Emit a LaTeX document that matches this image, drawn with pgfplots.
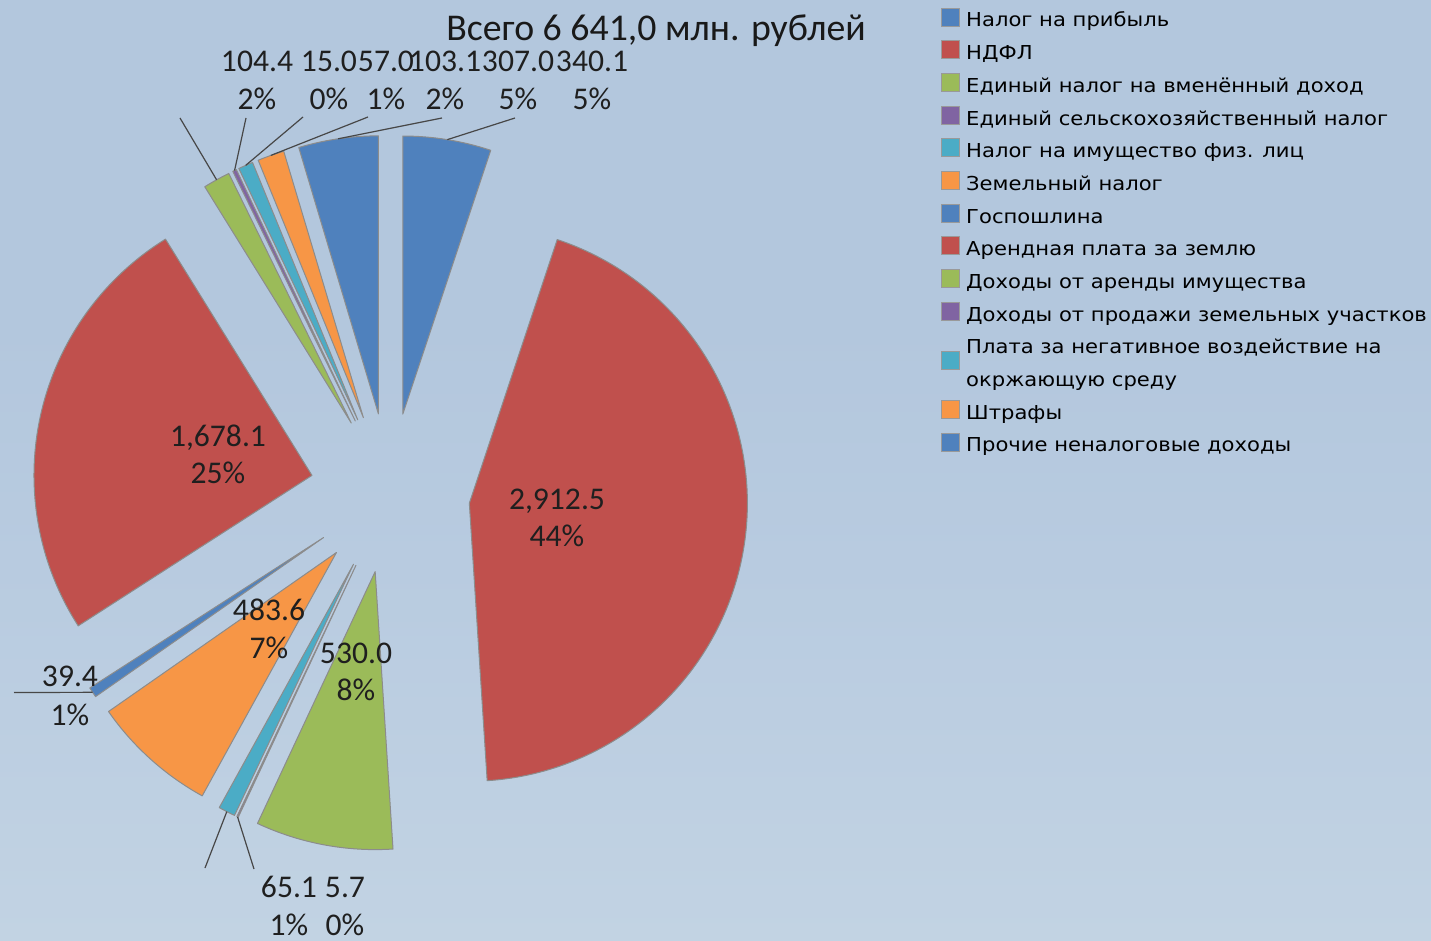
\documentclass[border=0pt]{standalone}
\usepackage{fontspec}
\setmainfont{Carlito}
\newfontfamily\legfont[FakeStretch=1.1]{DejaVu Sans}
\usepackage{pgfplots}
\usepackage{pgfplotstable}
\pgfplotsset{compat=1.18}

\definecolor{cA}{HTML}{4F81BD}
\definecolor{cB}{HTML}{C0504D}
\definecolor{cC}{HTML}{9BBB59}
\definecolor{cD}{HTML}{8064A2}
\definecolor{cE}{HTML}{4BACC6}
\definecolor{cF}{HTML}{F79646}
\definecolor{bg1}{HTML}{B2C5DC}
\definecolor{bg2}{HTML}{B9CBE1}
\definecolor{bg3}{HTML}{C2D3E3}
\definecolor{bg4}{HTML}{B8CBE0}
\definecolor{bg5}{HTML}{B3C7DD}
\definecolor{bg6}{HTML}{B4C8DE}
\pgfdeclareverticalshading{bgshade}{100bp}{color(0bp)=(bg1); color(8bp)=(bg2); color(25bp)=(bg3); color(45bp)=(bg4); color(58bp)=(bg5); color(100bp)=(bg6)}

% values in million roubles, clockwise from 12 o'clock
\pgfplotstableread{
value col
340.1  cA
2912.5 cB
530.0  cC
5.7    cD
65.1   cE
483.6  cF
39.4   cA
1678.1 cB
104.4  cC
15.0   cD
57.0   cE
103.1  cF
307.0  cA
}\piedata

\newcommand\lblfont{\fontsize{15.8}{18}\selectfont}
\tikzset{
  lbl/.style={font=\lblfont, anchor=base, inner sep=0pt, text=black!88},
  leader/.style={draw=black!72, line width=0.6pt},
}

\begin{document}
\def\total{0}%
\pgfplotsforeachungrouped \i in {0,...,12}{%
  \pgfplotstablegetelem{\i}{value}\of\piedata
  \pgfmathsetmacro\total{\total+\pgfplotsretval}}%
\def\cum{0}%
\pgfplotsforeachungrouped \i in {0,...,12}{%
  \pgfplotstablegetelem{\i}{value}\of\piedata
  \pgfmathsetmacro\a{\cum}%
  \pgfmathsetmacro\cum{\cum+\pgfplotsretval/\total*360}%
  \pgfmathsetmacro\m{0.5*(\a+\cum)}%
  \expandafter\xdef\csname ps\i\endcsname{\a}%
  \expandafter\xdef\csname pe\i\endcsname{\cum}%
  \expandafter\xdef\csname pm\i\endcsname{\m}%
  \pgfplotstablegetelem{\i}{col}\of\piedata
  \colorlet{pie\i}{\pgfplotsretval}}%
\begin{tikzpicture}
\begin{axis}[
  width=715.5pt, height=470.5pt, scale only axis,
  xmin=0, xmax=1431, ymin=0, ymax=941, y dir=reverse,
  axis lines=none, ticks=none, clip=false,
  legend cell align=left,
  legend style={at={(axis cs:941,-0.35)}, anchor=north west, draw=none, fill=none,
    inner sep=0pt, row sep=-0.6pt, column sep=1pt,
    font=\legfont\fontsize{9.6}{16.35}\selectfont,
    cells={anchor=west, align=left, inner sep=0pt}},
  legend image code/.code={\draw[#1] (0pt,-4.5pt) rectangle (9pt,4.5pt);},
]
\shade[shading=bgshade] (axis cs:0,0) rectangle (axis cs:1431,941);

\pgfplotsinvokeforeach{0,...,12}{%
  \filldraw[fill=pie#1, draw=black!45, line width=0.5pt, line join=round]
    (axis cs:390,493) ++({90-\csname pm#1\endcsname}:40pt)
    -- ++({90-\csname ps#1\endcsname}:139pt)
    arc[start angle={90-\csname ps#1\endcsname}, end angle={90-\csname pe#1\endcsname}, radius=139pt]
    -- cycle;
}

% leader lines (from the middle of each slice's arc to its label)
\draw[leader] (axis cs:390,493) ++({90-\csname pm0\endcsname}:179pt) -- (axis cs:515,118);
\draw[leader] (axis cs:390,493) ++({90-\csname pm12\endcsname}:179pt) -- (axis cs:442,118);
\draw[leader] (axis cs:390,493) ++({90-\csname pm11\endcsname}:179pt) -- (axis cs:368,117);
\draw[leader] (axis cs:390,493) ++({90-\csname pm10\endcsname}:179pt) -- (axis cs:303,117);
\draw[leader] (axis cs:390,493) ++({90-\csname pm9\endcsname}:179pt) -- (axis cs:246,118);
\draw[leader] (axis cs:390,493) ++({90-\csname pm8\endcsname}:179pt) -- (axis cs:180,118);
\draw[leader] (axis cs:390,493) ++({90-\csname pm6\endcsname}:179pt) -- (axis cs:14,692.5);
\draw[leader] (axis cs:390,493) ++({90-\csname pm4\endcsname}:179pt) -- (axis cs:205,868);
\draw[leader] (axis cs:390,493) ++({90-\csname pm3\endcsname}:179pt) -- (axis cs:254,869);

% title
\node[font=\fontsize{18.9}{22}\selectfont, anchor=base, inner sep=0pt, text=black!90] at (axis cs:656,41) {Всего 6 641,0 млн. рублей};

% data labels
\node[lbl] at (axis cs:557,509.5) {2,912.5};
\node[lbl] at (axis cs:557,546.5) {44\%};
\node[lbl] at (axis cs:218,446.5) {1,678.1};
\node[lbl] at (axis cs:218,483.5) {25\%};
\node[lbl] at (axis cs:269,620.5) {483.6};
\node[lbl] at (axis cs:269,658.5) {7\%};
\node[lbl] at (axis cs:356,663.5) {530.0};
\node[lbl] at (axis cs:356,700.5) {8\%};
\node[lbl] at (axis cs:70,686.5) {39.4};
\node[lbl] at (axis cs:70,725.5) {1\%};
\node[lbl] at (axis cs:289,897.5) {65.1};
\node[lbl] at (axis cs:289,935) {1\%};
\node[lbl] at (axis cs:345,897.5) {5.7};
\node[lbl] at (axis cs:345,935) {0\%};
\node[lbl] at (axis cs:257,71.5) {104.4};
\node[lbl] at (axis cs:257,109.5) {2\%};
\node[lbl] at (axis cs:329,71.5) {15.0};
\node[lbl] at (axis cs:329,109.5) {0\%};
\node[lbl] at (axis cs:386,71.5) {57.0};
\node[lbl] at (axis cs:386,109.5) {1\%};
\node[lbl] at (axis cs:445,71.5) {103.1};
\node[lbl] at (axis cs:445,109.5) {2\%};
\node[lbl] at (axis cs:518,71.5) {307.0};
\node[lbl] at (axis cs:518,109.5) {5\%};
\node[lbl] at (axis cs:592,71.5) {340.1};
\node[lbl] at (axis cs:592,109.5) {5\%};

\addlegendimage{fill=pie0, draw=black!40}
\addlegendentry{\strut Налог на прибыль}
\addlegendimage{fill=pie1, draw=black!40}
\addlegendentry{\strut НДФЛ}
\addlegendimage{fill=pie2, draw=black!40}
\addlegendentry{\strut Единый налог на вменённый доход}
\addlegendimage{fill=pie3, draw=black!40}
\addlegendentry{\strut Единый сельскохозяйственный налог}
\addlegendimage{fill=pie4, draw=black!40}
\addlegendentry{\strut Налог на имущество физ. лиц}
\addlegendimage{fill=pie5, draw=black!40}
\addlegendentry{\strut Земельный налог}
\addlegendimage{fill=pie6, draw=black!40}
\addlegendentry{\strut Госпошлина}
\addlegendimage{fill=pie7, draw=black!40}
\addlegendentry{\strut Арендная плата за землю}
\addlegendimage{fill=pie8, draw=black!40}
\addlegendentry{\strut Доходы от аренды имущества}
\addlegendimage{fill=pie9, draw=black!40}
\addlegendentry{\strut Доходы от продажи земельных участков}
\addlegendimage{fill=pie10, draw=black!40}
\addlegendentry{\strut Плата за негативное воздействие на\\\strut окржающую среду}
\addlegendimage{fill=pie11, draw=black!40}
\addlegendentry{\strut Штрафы}
\addlegendimage{fill=pie12, draw=black!40}
\addlegendentry{\strut Прочие неналоговые доходы}
\end{axis}
\end{tikzpicture}
\end{document}
